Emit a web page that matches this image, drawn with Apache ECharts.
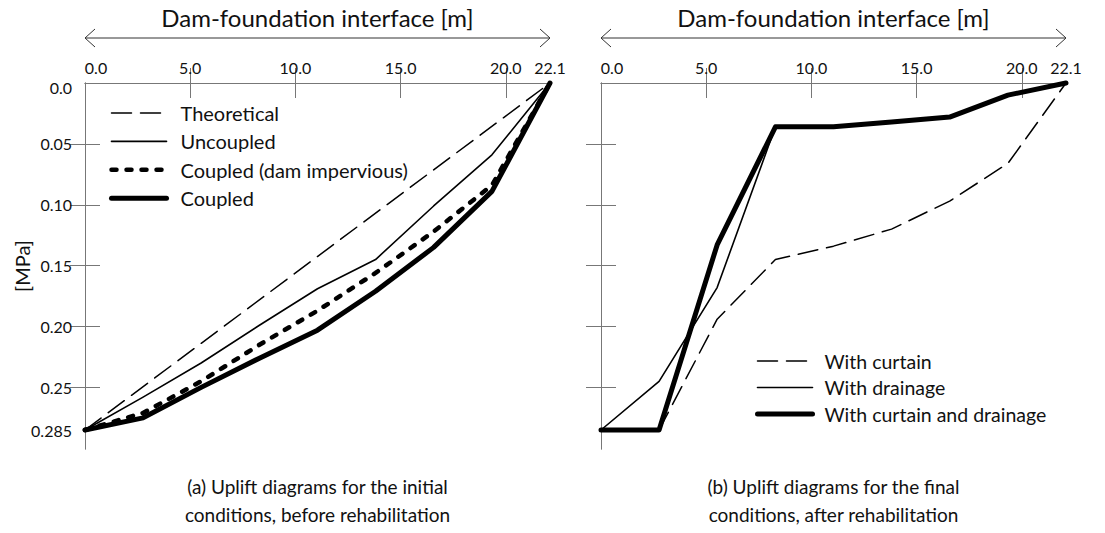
<!DOCTYPE html>
<html>
<head>
<meta charset="utf-8">
<script src="https://cdn.jsdelivr.net/npm/echarts@6/dist/echarts.min.js"></script>
<style>
  html, body { margin: 0; padding: 0; background: #fff; }
  #chart { width: 1105px; height: 533px; }
</style>
</head>
<body>
<div id="chart"></div>
<script>
// distance along the dam-foundation interface [m]
const xNodes = [0, 2.76, 5.52, 8.29, 11.05, 13.81, 16.57, 19.34, 22.1];
const theoryX = [0, 22.1];

// uplift pressure [MPa]
const theoretical = [0.285, 0];
const uncoupled = [0.285, 0.258, 0.230, 0.199, 0.169, 0.145, 0.101, 0.059, 0];
const coupledImpervious = [0.285, 0.271, 0.245, 0.215, 0.187, 0.156, 0.122, 0.084, 0];
const coupled = [0.285, 0.275, 0.250, 0.226, 0.203, 0.171, 0.135, 0.089, 0];

const withCurtain = [0.285, 0.285, 0.194, 0.145, 0.134, 0.120, 0.097, 0.066, 0];
const withDrainage = [0.285, 0.245, 0.168, 0.036, 0.036, 0.032, 0.028, 0.010, 0];
const withBoth = [0.285, 0.285, 0.133, 0.036, 0.036, 0.032, 0.028, 0.010, 0];

// ticks
const xLabelValues = [0, 5, 10, 15, 20, 22.1];
const xTickValues = [5, 10, 15, 20];
const yLabelValues = [0, 0.05, 0.10, 0.15, 0.20, 0.25, 0.285];
const yLabelText = ['0.0', '0.05', '0.10', '0.15', '0.20', '0.25', '0.285'];
const yTickValues = [0.05, 0.10, 0.15, 0.20, 0.25];

const FONT = 'Lato';
const TXT = '#111';
const AX = '#777';

const pair = (xs, ys) => xs.map((x, i) => [x, ys[i]]);

const grids = [
    { left: 85, top: 83, width: 465, height: 367 },
    { left: 601, top: 83, width: 465, height: 367 }
];

function topAxis(gi) {
    return {
        type: 'value', gridIndex: gi, position: 'top', min: 0, max: 22.1,
        name: 'Dam-foundation interface [m]', nameLocation: 'middle', nameGap: 54,
        nameTextStyle: { fontFamily: FONT, fontSize: 24, color: TXT },
        axisLine: { show: true, lineStyle: { color: AX, width: 1 } },
        axisTick: { show: true, inside: true, length: 15, customValues: xTickValues, lineStyle: { color: AX } },
        axisLabel: {
            customValues: xLabelValues, margin: 8,
            fontFamily: FONT, fontSize: 16, color: TXT,
            formatter: v => v === 0 ? '{s|0.0}' : v.toFixed(1),
            rich: { s: { padding: [0, 0, 0, 22], fontFamily: FONT, fontSize: 16, color: TXT } }
        },
        splitLine: { show: false }
    };
}

function bottomAxis(gi, caption) {
    return {
        type: 'value', gridIndex: gi, position: 'bottom', min: 0, max: 22.1,
        name: caption, nameLocation: 'middle', nameGap: 23,
        nameTextStyle: { fontFamily: FONT, fontSize: 19, color: TXT, lineHeight: 28 },
        axisLine: { show: true, lineStyle: { color: AX, width: 1 } },
        axisTick: { show: true, inside: true, length: 15, customValues: xTickValues, lineStyle: { color: AX } },
        axisLabel: { show: false },
        splitLine: { show: false }
    };
}

function leftAxis(gi, withLabels) {
    return {
        type: 'value', gridIndex: gi, position: 'left', inverse: true, min: 0, max: 0.3006,
        name: withLabels ? '[MPa]' : '', nameLocation: 'middle', nameGap: 53, nameRotate: 90,
        nameMoveOverlap: false,
        nameTextStyle: { fontFamily: FONT, fontSize: 20, color: TXT },
        axisLine: { show: true, lineStyle: { color: AX, width: 1 } },
        axisTick: { show: true, inside: true, length: 15, customValues: yTickValues, lineStyle: { color: AX } },
        axisLabel: {
            show: withLabels, customValues: yLabelValues, margin: 13,
            fontFamily: FONT, fontSize: 16, color: TXT,
            formatter: v => {
                const i = yLabelValues.findIndex(t => Math.abs(t - v) < 1e-9);
                const s = i >= 0 ? yLabelText[i] : '';
                return v === 0 ? '{s|' + s + '}' : s;
            },
            rich: { s: { padding: [8, 0, 0, 0], fontFamily: FONT, fontSize: 16, color: TXT } }
        },
        splitLine: { show: false }
    };
}

function rightAxis(gi) {
    return {
        type: 'value', gridIndex: gi, position: 'right', inverse: true, min: 0, max: 0.3006,
        axisLine: { show: true, lineStyle: { color: AX, width: 1 } },
        axisTick: { show: true, inside: true, length: 15, customValues: yTickValues, lineStyle: { color: AX } },
        axisLabel: { show: false },
        splitLine: { show: false }
    };
}

function line(name, data, axis, width, type) {
    return {
        name: name, type: 'line', data: data,
        xAxisIndex: axis, yAxisIndex: axis,
        symbol: 'none', clip: false, silent: true,
        itemStyle: { color: '#000' },
        lineStyle: { color: '#000', width: width, type: type, cap: 'round', join: 'round' }
    };
}

// double headed arrows above each panel
function arrow(g) {
    const y = 38, x0 = g.left, x1 = g.left + g.width, h = 9, w = 10;
    const st = { stroke: '#333', lineWidth: 1, fill: null };
    return [
        { type: 'line', shape: { x1: x0, y1: y, x2: x1, y2: y }, style: st, silent: true },
        { type: 'polyline', shape: { points: [[x0 + w, y - h], [x0, y], [x0 + w, y + h]] }, style: st, silent: true },
        { type: 'polyline', shape: { points: [[x1 - w, y - h], [x1, y], [x1 - w, y + h]] }, style: st, silent: true }
    ];
}

const legendBase = {
    orient: 'vertical', itemWidth: 55, itemHeight: 14,
    lineStyle: { width: 'inherit' },
    itemStyle: { opacity: 0, borderWidth: 0 },
    selectedMode: false
};

const option = {
    animation: false,
    grid: grids,
    xAxis: [
        topAxis(0),
        bottomAxis(0, '(a) Uplift diagrams for the initial\nconditions, before rehabilitation'),
        topAxis(1),
        bottomAxis(1, '(b) Uplift diagrams for the final\nconditions, after rehabilitation')
    ],
    yAxis: [leftAxis(0, true), rightAxis(0), leftAxis(1, false), rightAxis(1)],
    legend: [
        Object.assign({}, legendBase, {
            left: 104, top: 98, itemGap: 8.4,
            textStyle: { fontFamily: FONT, fontSize: 20, color: TXT, padding: [0, 0, 0, 9] },
            data: ['Theoretical', 'Uncoupled', 'Coupled (dam impervious)', 'Coupled']
        }),
        Object.assign({}, legendBase, {
            left: 750, top: 346, itemGap: 6.5,
            textStyle: { fontFamily: FONT, fontSize: 19.5, color: TXT, padding: [0, 0, 0, 7] },
            data: ['With curtain', 'With drainage', 'With curtain and drainage']
        })
    ],
    series: [
        line('Theoretical', pair(theoryX, theoretical), 0, 1.5, [20, 9]),
        line('Uncoupled', pair(xNodes, uncoupled), 0, 1.6, 'solid'),
        line('Coupled (dam impervious)', pair(xNodes, coupledImpervious), 0, 4.5, [5, 10]),
        line('Coupled', pair(xNodes, coupled), 0, 5, 'solid'),
        line('With curtain', pair(xNodes, withCurtain), 2, 1.5, [20, 9]),
        line('With drainage', pair(xNodes, withDrainage), 2, 1.6, 'solid'),
        line('With curtain and drainage', pair(xNodes, withBoth), 2, 5, 'solid')
    ],
    graphic: arrow(grids[0]).concat(arrow(grids[1]))
};

const chart = echarts.init(document.getElementById('chart'), null, { renderer: 'svg' });
chart.setOption(option);
</script>
</body>
</html>
